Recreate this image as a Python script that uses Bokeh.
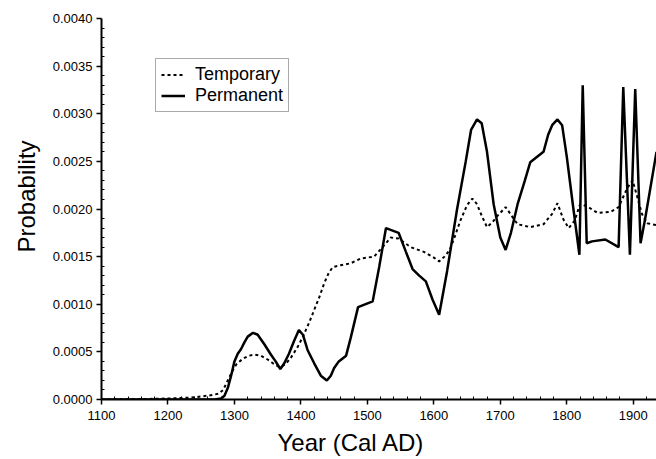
from bokeh.plotting import figure
from bokeh.models import (Range1d, FixedTicker, PrintfTickFormatter, Legend, LegendItem, Title)
from bokeh.embed import file_html
from bokeh.resources import INLINE

perm_years = [1100, 1200, 1270, 1280, 1285, 1290, 1295, 1300, 1305, 1310, 1315, 1320, 1328, 1335,
              1345, 1355, 1362, 1369, 1375, 1382, 1390, 1397, 1403, 1410, 1420, 1430, 1439, 1445,
              1450, 1457, 1468, 1475, 1486, 1508, 1518, 1528, 1547, 1558, 1568, 1578, 1588, 1598,
              1608, 1620, 1635, 1648, 1656, 1665, 1672, 1680, 1690, 1700, 1708, 1716, 1726, 1737,
              1745, 1765, 1772, 1778, 1786, 1793, 1800, 1810, 1819, 1824, 1830, 1838, 1858, 1878,
              1885, 1895, 1903, 1911, 1918, 1935]
perm_vals = [0, 0, 0, 0.00001, 0.00004, 0.00012, 0.00025, 0.0004, 0.00048, 0.00053, 0.0006, 0.00066,
             0.0007, 0.00068, 0.00058, 0.00047, 0.0004, 0.00032, 0.00038, 0.00048, 0.00062, 0.00073,
             0.00068, 0.00052, 0.00038, 0.00025, 0.0002, 0.00025, 0.00033, 0.0004, 0.00046, 0.00065,
             0.00097, 0.00103, 0.0014, 0.0018, 0.00175, 0.00155, 0.00137, 0.0013, 0.00124, 0.00105,
             0.00089, 0.00135, 0.002, 0.0025, 0.00283, 0.00294, 0.0029, 0.0026, 0.00205, 0.0017,
             0.00157, 0.00175, 0.00205, 0.0023, 0.00249, 0.0026, 0.00278, 0.00288, 0.00294, 0.00288,
             0.00255, 0.002, 0.00152, 0.0033, 0.00164, 0.00166, 0.00168, 0.0016, 0.00328, 0.00152,
             0.00326, 0.00164, 0.0019, 0.0026]

temp_years = [1100, 1150, 1200, 1235, 1260, 1276, 1283, 1290, 1297, 1303, 1313, 1322, 1330, 1340,
              1350, 1358, 1365, 1372, 1378, 1385, 1395, 1403, 1412, 1420, 1428, 1435, 1442, 1448,
              1460, 1475, 1490, 1510, 1523, 1535, 1547, 1565, 1585, 1600, 1608, 1616, 1624, 1632,
              1640, 1650, 1658, 1665, 1672, 1680, 1688, 1696, 1708, 1716, 1726, 1745, 1765, 1778,
              1786, 1795, 1803, 1812, 1820, 1830, 1846, 1866, 1878, 1891, 1899, 1906, 1913, 1921, 1935]
temp_vals = [0, 0.000003, 0.00001, 0.00002, 0.00004, 0.00006, 0.0001, 0.0002, 0.0003, 0.00037,
             0.00043, 0.00046, 0.00047, 0.00046, 0.00042, 0.00038, 0.00035, 0.00035, 0.00038, 0.00044,
             0.00055, 0.00066, 0.0008, 0.00094, 0.00108, 0.00122, 0.00133, 0.00139, 0.00141, 0.00143,
             0.00148, 0.0015, 0.0016, 0.0017, 0.00169, 0.0016, 0.00155, 0.00149, 0.00145, 0.0015,
             0.00157, 0.00172, 0.00188, 0.00204, 0.00211, 0.00205, 0.00193, 0.00181, 0.00186, 0.00193,
             0.00202, 0.00194, 0.00184, 0.00181, 0.00184, 0.00195, 0.00206, 0.00189, 0.0018, 0.00188,
             0.00205, 0.00203, 0.00196, 0.00197, 0.00202, 0.00222, 0.0023, 0.00213, 0.00195, 0.00185,
             0.00183]

x_ticks = [1100, 1200, 1300, 1400, 1500, 1600, 1700, 1800, 1900]
y_ticks = [0.0, 0.0005, 0.001, 0.0015, 0.002, 0.0025, 0.003, 0.0035, 0.004]
x_title = "Year (Cal AD)"
y_title = "Probability"
series_names = ["Temporary", "Permanent"]

FONT = "Liberation Sans"

p = figure(width=656, height=459, output_backend="svg", toolbar_location=None,
           x_range=Range1d(1100, 1935), y_range=Range1d(0, 0.004),
           min_border_left=101, min_border_right=0, min_border_top=18, min_border_bottom=59)
p.grid.visible = False
p.outline_line_color = None
p.background_fill_color = "white"
p.border_fill_color = "white"

x_minor = [y for y in range(1100, 1940, 20) if y not in x_ticks]
y_minor = [round(i * 0.0001, 4) for i in range(0, 41) if i % 5 != 0]
p.xaxis.ticker = FixedTicker(ticks=x_ticks, minor_ticks=x_minor)
p.yaxis.ticker = FixedTicker(ticks=y_ticks, minor_ticks=y_minor)
p.yaxis.formatter = PrintfTickFormatter(format="%.4f")

for ax in (p.xaxis, p.yaxis):
    ax.axis_line_width = 2
    ax.axis_line_color = "black"
    ax.major_tick_line_color = "black"
    ax.major_tick_line_width = 1.5
    ax.major_tick_out = 5
    ax.major_tick_in = 0
    ax.minor_tick_line_color = "black"
    ax.minor_tick_in = 3
    ax.minor_tick_out = 0
    ax.major_label_text_font = FONT
    ax.major_label_text_font_size = "13px"
    ax.major_label_text_color = "black"
p.xaxis.major_label_standoff = 6
p.yaxis.major_label_standoff = 4

temp_r = p.line(temp_years, temp_vals, line_color="black", line_width=2, line_dash="3 3")
perm_r = p.line(perm_years, perm_vals, line_color="black", line_width=2.5)

legend = Legend(items=[LegendItem(label=series_names[0], renderers=[temp_r]),
                       LegendItem(label=series_names[1], renderers=[perm_r])],
                location=(54, 287), orientation="vertical")
legend.label_text_font = FONT
legend.label_text_font_size = "18px"
legend.label_text_color = "black"
legend.glyph_width = 24
legend.glyph_height = 15
legend.label_height = 15
legend.label_standoff = 10
legend.spacing = 0
legend.padding = 5
legend.margin = 0
legend.border_line_color = "#555555"
legend.border_line_width = 1
legend.background_fill_alpha = 1
p.add_layout(legend)

p.add_layout(Title(text=x_title, text_font=FONT, text_font_size="24px", text_font_style="normal",
                   text_color="black", align="left", offset=176, standoff=8), "below")
p.add_layout(Title(text=y_title, text_font=FONT, text_font_size="24px", text_font_style="normal",
                   text_color="black", align="left", offset=147, standoff=20), "left")

open("out.html", "w").write(file_html(p, INLINE))
